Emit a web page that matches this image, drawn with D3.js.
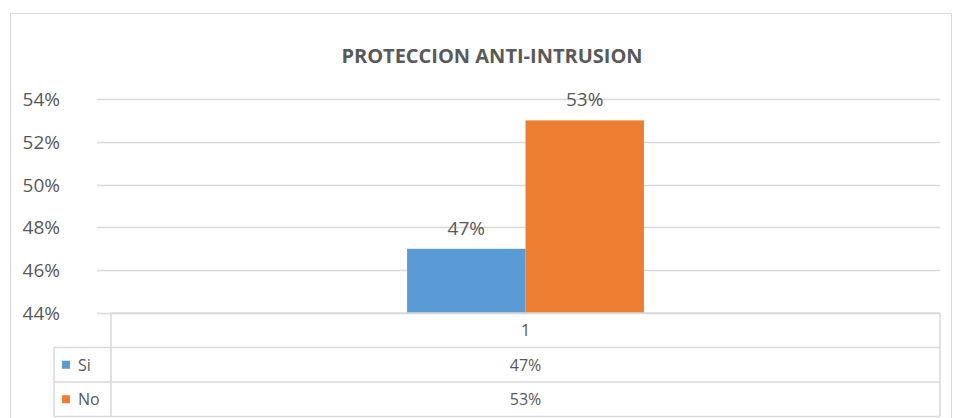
<!DOCTYPE html>
<html>
<head>
<meta charset="utf-8">
<script src="https://d3js.org/d3.v7.min.js"></script>
<style>
  body { margin: 0; background: #fff; }
  text { font-family: "Open Sans", Lato, sans-serif; fill: #595959; }
</style>
</head>
<body>
<svg id="chart" width="956" height="418"></svg>
<script>
var title = "PROTECCION ANTI-INTRUSION";
var categories = ["1"];
var seriesNames = ["Si", "No"];
var seriesValues = [[0.47], [0.53]];
var colors = ["#5b9bd5", "#ed7d31"];
var yTicks = [0.44, 0.46, 0.48, 0.50, 0.52, 0.54];

var svg = d3.select("#chart");
var grid = "#d9d9d9";
var fmt = d3.format(".0%");

// outer chart border
svg.append("rect").attr("x", 10.5).attr("y", 13.5).attr("width", 941).attr("height", 420)
  .attr("fill", "none").attr("stroke", grid);

svg.append("text").attr("x", 492).attr("y", 63).attr("text-anchor", "middle")
  .style("font-size", "20px").style("font-weight", "bold").text(title);

var plotL = 111, plotR = 940, plotT = 99, plotB = 313;
var y = d3.scaleLinear().domain([0.44, 0.54]).range([plotB, plotT]);
var x0 = d3.scaleBand().domain(categories).range([plotL, plotR]);
var groupW = x0.bandwidth() / 3.5;
var x1 = d3.scaleBand().domain(seriesNames).range([0, groupW]);

// gridlines and y labels
svg.append("g").selectAll("line").data(yTicks).enter().append("line")
  .attr("x1", 97).attr("x2", plotR)
  .attr("y1", d => Math.round(y(d)) + 0.5).attr("y2", d => Math.round(y(d)) + 0.5)
  .attr("stroke", grid).attr("stroke-width", 1.5);
svg.append("g").selectAll("text").data(yTicks).enter().append("text")
  .attr("x", 60).attr("y", d => y(d) + 7).attr("text-anchor", "end")
  .style("font-size", "19px").text(d => fmt(d));

// bars
categories.forEach(function(c, ci) {
  var gx = x0(c) + (x0.bandwidth() - groupW) / 2;
  seriesNames.forEach(function(s, si) {
    var v = seriesValues[si][ci];
    svg.append("rect").attr("x", gx + x1(s)).attr("y", y(v))
      .attr("width", x1.bandwidth()).attr("height", plotB - y(v))
      .attr("fill", colors[si]);
    svg.append("text").attr("x", gx + x1(s) + x1.bandwidth() / 2).attr("y", y(v) - 14)
      .attr("text-anchor", "middle").style("font-size", "19px").text(fmt(v));
  });
});

// data table
var rowH = 34.5, legL = 54;
var rows = [plotB, plotB + rowH, plotB + 2 * rowH, plotB + 3 * rowH];
var tbl = svg.append("g").attr("stroke", grid).attr("stroke-width", 1.5);
tbl.append("line").attr("x1", plotL).attr("x2", plotR).attr("y1", rows[0]).attr("y2", rows[0]);
rows.slice(1).forEach(function(r) {
  tbl.append("line").attr("x1", legL).attr("x2", plotR).attr("y1", r).attr("y2", r);
});
tbl.append("line").attr("x1", plotL).attr("x2", plotL).attr("y1", rows[0]).attr("y2", rows[3]);
tbl.append("line").attr("x1", plotR).attr("x2", plotR).attr("y1", rows[0]).attr("y2", rows[3]);
tbl.append("line").attr("x1", legL).attr("x2", legL).attr("y1", rows[1]).attr("y2", rows[3]);

categories.forEach(function(c) {
  var cx = x0(c) + x0.bandwidth() / 2;
  svg.append("text").attr("x", cx).attr("y", rows[0] + rowH / 2 + 6)
    .attr("text-anchor", "middle").style("font-size", "16px").text(c);
  seriesNames.forEach(function(s, si) {
    svg.append("text").attr("x", cx).attr("y", rows[si + 1] + rowH / 2 + 6)
      .attr("text-anchor", "middle").style("font-size", "16px").text(fmt(seriesValues[si][0]));
  });
});
seriesNames.forEach(function(s, si) {
  var cy = rows[si + 1] + rowH / 2;
  svg.append("rect").attr("x", 62).attr("y", cy - 4).attr("width", 8).attr("height", 8).attr("fill", colors[si]);
  svg.append("text").attr("x", 78).attr("y", cy + 6).style("font-size", "16px").text(s);
});
</script>
</body>
</html>
